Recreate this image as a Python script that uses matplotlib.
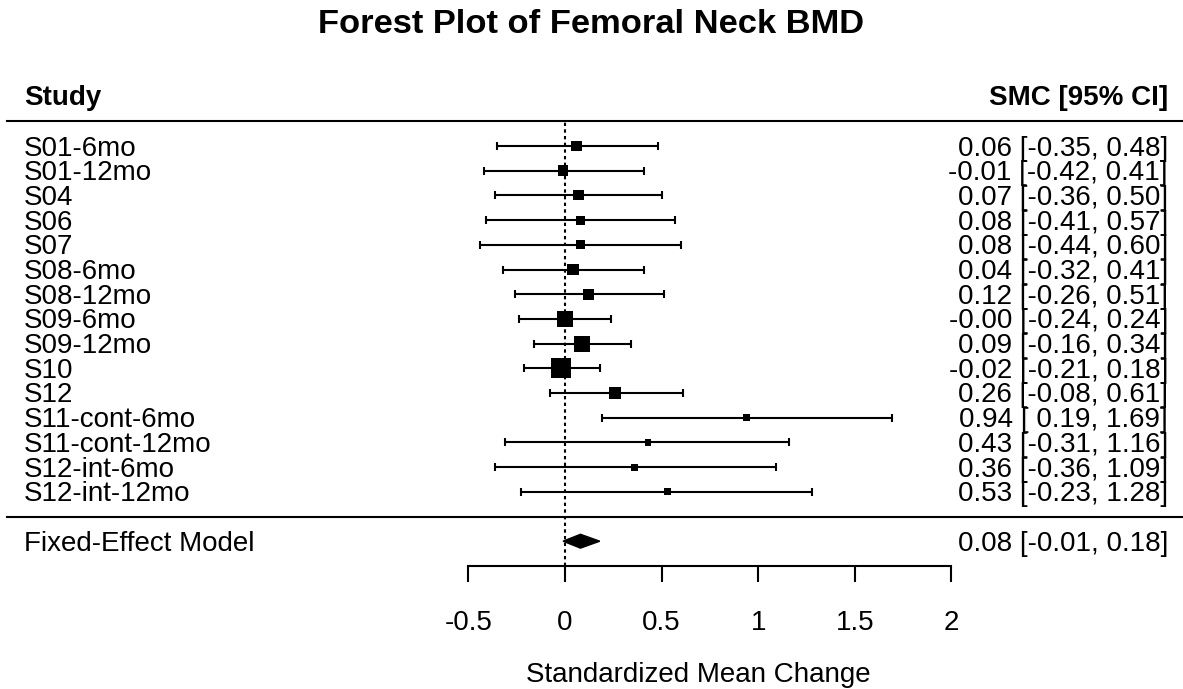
import numpy as np
import matplotlib
matplotlib.use("Agg")
import matplotlib.pyplot as plt
from matplotlib.transforms import blended_transform_factory

plt.rcParams['font.family'] = ['Liberation Sans', 'DejaVu Sans']

studies = ["S01-6mo", "S01-12mo", "S04", "S06", "S07", "S08-6mo", "S08-12mo",
           "S09-6mo", "S09-12mo", "S10", "S12", "S11-cont-6mo", "S11-cont-12mo",
           "S12-int-6mo", "S12-int-12mo"]
est = [0.06, -0.01, 0.07, 0.08, 0.08, 0.04, 0.12, -0.0, 0.09, -0.02, 0.26,
       0.94, 0.43, 0.36, 0.53]
lower = [-0.35, -0.42, -0.36, -0.41, -0.44, -0.32, -0.26, -0.24, -0.16, -0.21,
         -0.08, 0.19, -0.31, -0.36, -0.23]
upper = [0.48, 0.41, 0.50, 0.57, 0.60, 0.41, 0.51, 0.24, 0.34, 0.18, 0.61,
         1.69, 1.16, 1.09, 1.28]
summary_label = "Fixed-Effect Model"
summary_est, summary_lower, summary_upper = 0.08, -0.01, 0.18
xticks = [-0.5, 0, 0.5, 1, 1.5, 2]
xtick_labels = ["-0.5", "0", "0.5", "1", "1.5", "2"]

est_a = np.array(est); lo_a = np.array(lower); up_a = np.array(upper)
k = len(studies)
ys = np.arange(k, 0, -1)          # rows k..1
y_sep = 0
y_sum = -1
y_axis = -2

W, H = 1183, 689
fig = plt.figure(figsize=(W / 100, H / 100), dpi=100)
ax = fig.add_axes([0, 0, 1, 1])
px_per_unit = 193.2
x0_px = 565
ax.set_xlim(-x0_px / px_per_unit, (W - x0_px) / px_per_unit)
row_px = 24.7
top_row_px = 146
ax.set_ylim(k - (H - top_row_px) / row_px, k + top_row_px / row_px)


def px_to_y(py):
    return k - (py - top_row_px) / row_px


lw = 1.5
for s in ["top", "left", "right"]:
    ax.spines[s].set_visible(False)
ax.spines["bottom"].set_position(("data", y_axis))
ax.spines["bottom"].set_bounds(min(xticks), max(xticks))
ax.spines["bottom"].set_linewidth(lw)
ax.set_yticks([])
ax.set_xticks(xticks)
ax.set_xticklabels(xtick_labels, fontsize=20)
ax.tick_params(axis="x", direction="out", length=11.5, width=lw, pad=20.5)

xt = blended_transform_factory(ax.transAxes, ax.transData)
fs = 20
base_off = 9.5 / row_px   # baseline offset below row centre

# header & separators
ax.plot([0.006, 1.0], [k + 1, k + 1], transform=xt, color="black", lw=lw, clip_on=False)
ax.plot([0.006, 1.0], [y_sep, y_sep], transform=xt, color="black", lw=lw, clip_on=False)
ax.text(0.0203, px_to_y(105), "Study", transform=xt, fontsize=fs, fontweight="bold",
        ha="left", va="baseline")
ax.text(0.9873, px_to_y(105), "SMC [95% CI]", transform=xt, fontsize=fs, fontweight="bold",
        ha="right", va="baseline")

# reference line
ax.plot([0, 0], [y_axis, k + 1], color="black", lw=lw, linestyle=(0, (1.6, 1.6)))

# CIs
ax.errorbar(est_a, ys, xerr=[est_a - lo_a, up_a - est_a], fmt="none",
            ecolor="black", elinewidth=lw, capsize=2.9, capthick=lw)

# squares sized by inverse standard error
w = 3.92 / (up_a - lo_a)
side_px = 13.3 * (0.5 + (w - w.min()) / (w.max() - w.min()))
side_pt = side_px * 0.72
ax.scatter(est_a, ys, s=side_pt ** 2, marker="s", color="black", zorder=3, linewidths=0)

# labels and annotations
for i, y in enumerate(ys):
    ax.text(0.0203, y - base_off, studies[i], transform=xt, fontsize=fs,
            ha="left", va="baseline")
    ann = f"{est[i]:.2f} [{lower[i]:5.2f}, {upper[i]:.2f}]"
    ax.text(0.9873, y - base_off, ann, transform=xt, fontsize=fs,
            ha="right", va="baseline")

# summary diamond
h = 0.28
ax.fill([summary_lower, summary_est, summary_upper, summary_est],
        [y_sum, y_sum + h, y_sum, y_sum - h], color="black", zorder=3)
ax.text(0.0203, y_sum - base_off, summary_label, transform=xt, fontsize=fs,
        ha="left", va="baseline")
ax.text(0.9873, y_sum - base_off,
        f"{summary_est:.2f} [{summary_lower:.2f}, {summary_upper:.2f}]",
        transform=xt, fontsize=fs, ha="right", va="baseline")

# axis label
ax.text(0.69, px_to_y(682), "Standardized Mean Change",
        fontsize=fs, ha="center", va="baseline")

fig.text(0.5, 1 - 33 / H, "Forest Plot of Femoral Neck BMD", fontsize=24.8,
         fontweight="bold", ha="center", va="baseline")

fig.savefig("out.png", dpi=100)
